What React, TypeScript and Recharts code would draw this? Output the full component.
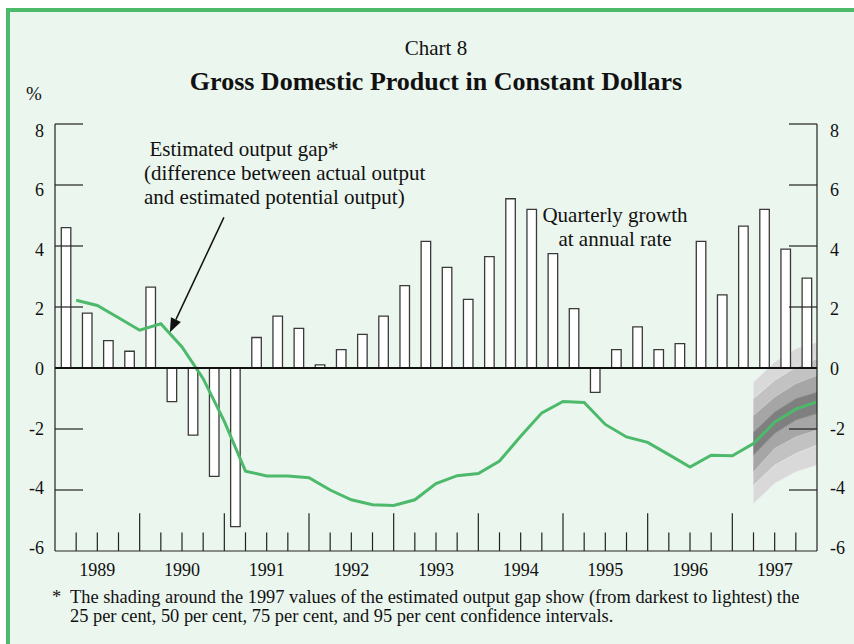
import { ComposedChart, Bar, Line, Area, XAxis, YAxis, ReferenceLine } from 'recharts';

const years = ['1989', '1990', '1991', '1992', '1993', '1994', '1995', '1996', '1997'];

// quarterly growth at annual rate, 1989Q1 - 1997Q4
const growth = [
  4.6, 1.8, 0.9, 0.55, 2.65, -1.1, -2.2, -3.55, -5.2, 1.0, 1.7, 1.3,
  0.1, 0.6, 1.1, 1.7, 2.7, 4.15, 3.3, 2.25, 3.65, 5.55, 5.2, 3.75,
  1.95, -0.8, 0.6, 1.35, 0.6, 0.8, 4.15, 2.4, 4.65, 5.2, 3.9, 2.95,
];

// estimated output gap, plotted at end of each quarter
const gap = [
  2.22, 2.05, 1.65, 1.24, 1.45, 0.69, -0.35, -1.75, -3.38, -3.54, -3.54, -3.6,
  -4.0, -4.32, -4.48, -4.51, -4.32, -3.79, -3.53, -3.46, -3.05, -2.24, -1.47, -1.1,
  -1.13, -1.85, -2.26, -2.44, -2.84, -3.25, -2.86, -2.88, -2.48, -1.78, -1.35, -1.11,
];

// confidence bands for the last four gap points (1997)
const fanStart = 32;
const ci95Lo = [-4.45, -3.79, -3.41, -3.19];
const ci95Hi = [-0.46, 0.2, 0.64, 0.85];
const ci75Lo = [-3.85, -3.19, -2.81, -2.53];
const ci75Hi = [-1.0, -0.4, 0.03, 0.31];
const ci50Lo = [-3.41, -2.64, -2.26, -2.04];
const ci50Hi = [-1.55, -0.95, -0.51, -0.24];
const ci25Lo = [-2.86, -2.15, -1.71, -1.5];
const ci25Hi = [-2.1, -1.44, -1.0, -0.79];

const yTicks = [-6, -4, -2, 0, 2, 4, 6, 8];

const rows: any[] = [];
growth.forEach((g, i) => {
  rows.push({ x: i + 0.5, growth: g });
  const row: any = { x: i + 1, gap: gap[i] };
  const k = i - fanStart;
  if (k >= 0 && k < ci95Lo.length) {
    row.ci95 = [ci95Lo[k], ci95Hi[k]];
    row.ci75 = [ci75Lo[k], ci75Hi[k]];
    row.ci50 = [ci50Lo[k], ci50Hi[k]];
    row.ci25 = [ci25Lo[k], ci25Hi[k]];
  }
  rows.push(row);
});

const quarterMarks = Array.from({ length: growth.length - 1 }, (_, i) => i + 1);

const serif = '"Liberation Serif", "Times New Roman", serif';
const green = '#4cb96b';
const ink = '#222';
const plotW = 762;
const labelStyle = { fontFamily: serif, fontSize: 18 };

// label baseline nudged a bit like the original artwork
const labelDy = (v: number) => 7 + 0.7 * v;

// left axis tick draws both sides (labels + inward ticks) and the zero line
const ValueTick = (p: any) => {
  const v = p.payload.value;
  const rx = p.x + plotW;
  const inner = v !== 0 && v !== -6;
  return (
    <g>
      {v === 0 && <line x1={p.x} x2={rx} y1={p.y} y2={p.y} stroke="#111" strokeWidth={2} />}
      {inner && <line x1={p.x} x2={p.x + 28} y1={p.y} y2={p.y} stroke={ink} strokeWidth={1.2} />}
      {inner && <line x1={rx - 28} x2={rx} y1={p.y} y2={p.y} stroke={ink} strokeWidth={1.2} />}
      <text x={p.x - 11} y={p.y + labelDy(v)} textAnchor="end" fill="#111" style={labelStyle}>
        {v}
      </text>
      <text x={rx + 13} y={p.y + labelDy(v)} textAnchor="start" fill="#111" style={labelStyle}>
        {v}
      </text>
    </g>
  );
};

const YearTick = (p: any) => (
  <text x={p.x} y={p.y + 25} textAnchor="middle" fill="#111" style={labelStyle}>
    {years[(p.payload.value - 2) / 4]}
  </text>
);

const Arrow = (p: any) => {
  const { x1, y1, x2, y2 } = p;
  const ang = Math.atan2(y2 - y1, x2 - x1);
  const len = 14;
  const w = 5.5;
  const bx = x2 - len * Math.cos(ang);
  const by = y2 - len * Math.sin(ang);
  const nx = -Math.sin(ang) * w;
  const ny = Math.cos(ang) * w;
  return (
    <g>
      <line x1={x1} y1={y1} x2={bx} y2={by} stroke="#111" strokeWidth={1.5} />
      <polygon points={`${x2},${y2} ${bx + nx},${by + ny} ${bx - nx},${by - ny}`} fill="#111" />
    </g>
  );
};

export default function App() {
  return (
    <div style={{ position: 'absolute', left: 0, top: 0, width: 854, height: 644, background: '#fff', overflow: 'hidden', fontFamily: serif, color: '#111' }}>
      <div style={{ position: 'absolute', left: 6, top: 8, width: 870, height: 660, borderLeft: `4px solid ${green}`, borderTop: `4px solid ${green}`, background: '#ebf6ee' }} />
      <div style={{ position: 'absolute', left: 0, width: 872, top: 36, textAlign: 'center', fontSize: 21 }}>Chart 8</div>
      <div style={{ position: 'absolute', left: 0, width: 872, top: 67, textAlign: 'center', fontSize: 26, fontWeight: 'bold' }}>
        Gross Domestic Product in Constant Dollars
      </div>
      <div style={{ position: 'absolute', left: 26, top: 83, fontSize: 19 }}>%</div>
      <div style={{ position: 'absolute', left: 0, top: 0 }}>
        <ComposedChart width={854} height={644} data={rows} margin={{ top: 124, right: 0, bottom: 0, left: 0 }}>
          <XAxis
            dataKey="x"
            type="number"
            domain={[0, 36]}
            ticks={years.map((_, i) => i * 4 + 2)}
            interval={0}
            height={93}
            tickLine={false}
            tickSize={0}
            tickMargin={0}
            axisLine={{ stroke: ink, strokeWidth: 1.2 }}
            tick={YearTick}
          />
          <YAxis
            yAxisId="left"
            domain={[-6, 8]}
            ticks={yTicks}
            interval={0}
            width={55}
            tickLine={false}
            tickSize={0}
            tickMargin={0}
            axisLine={{ stroke: ink, strokeWidth: 1.2 }}
            tick={ValueTick}
          />
          <YAxis
            yAxisId="right"
            orientation="right"
            domain={[-6, 8]}
            width={37}
            tick={false}
            tickLine={false}
            axisLine={{ stroke: ink, strokeWidth: 1.2 }}
          />
          {quarterMarks.map((q) => (
            <ReferenceLine
              key={'q' + q}
              yAxisId="left"
              segment={[{ x: q, y: -6 }, { x: q, y: q % 4 === 0 ? -4.76 : -5.39 }]}
              stroke={ink}
              strokeWidth={1.2}
            />
          ))}
          <Bar yAxisId="left" dataKey="growth" barSize={13} fill="#fff" stroke="#3a3a3a" strokeWidth={1.3} isAnimationActive={false} />
          <Area yAxisId="left" dataKey="ci95" type="linear" fill="#d9d9d9" fillOpacity={1} stroke="#eeeeee" strokeWidth={1} connectNulls isAnimationActive={false} />
          <Area yAxisId="left" dataKey="ci75" type="linear" fill="#c2c2c2" fillOpacity={1} stroke="#e4e4e4" strokeWidth={1} connectNulls isAnimationActive={false} />
          <Area yAxisId="left" dataKey="ci50" type="linear" fill="#a6a6a6" fillOpacity={1} stroke="#cfcfcf" strokeWidth={0.8} connectNulls isAnimationActive={false} />
          <Area yAxisId="left" dataKey="ci25" type="linear" fill="#7f7f7f" fillOpacity={1} stroke="#9a9a9a" strokeWidth={0.8} connectNulls isAnimationActive={false} />
          <Line yAxisId="left" dataKey="gap" type="linear" stroke={green} strokeWidth={3} dot={false} connectNulls isAnimationActive={false} />
          <ReferenceLine
            yAxisId="left"
            segment={[{ x: 7.98, y: 4.94 }, { x: 5.43, y: 1.17 }]}
            shape={Arrow}
          />
        </ComposedChart>
      </div>
      <div style={{ position: 'absolute', left: 144, width: 200, top: 137, textAlign: 'center', fontSize: 21, lineHeight: '24px', whiteSpace: 'nowrap' }}>
        Estimated output gap*
        <br />
        (difference between actual output
        <br />
        and estimated potential output)
      </div>
      <div style={{ position: 'absolute', left: 515, width: 200, top: 203, textAlign: 'center', fontSize: 21, lineHeight: '24px', whiteSpace: 'nowrap' }}>
        Quarterly growth
        <br />
        at annual rate
      </div>
      <div style={{ position: 'absolute', left: 52, top: 588, fontSize: 18.4, lineHeight: '19px' }}>*</div>
      <div style={{ position: 'absolute', left: 70, top: 588, fontSize: 18.4, lineHeight: '19px', whiteSpace: 'nowrap' }}>
        The shading around the 1997 values of the estimated output gap show (from darkest to lightest) the
        <br />
        25 per cent, 50 per cent, 75 per cent, and 95 per cent confidence intervals.
      </div>
    </div>
  );
}
